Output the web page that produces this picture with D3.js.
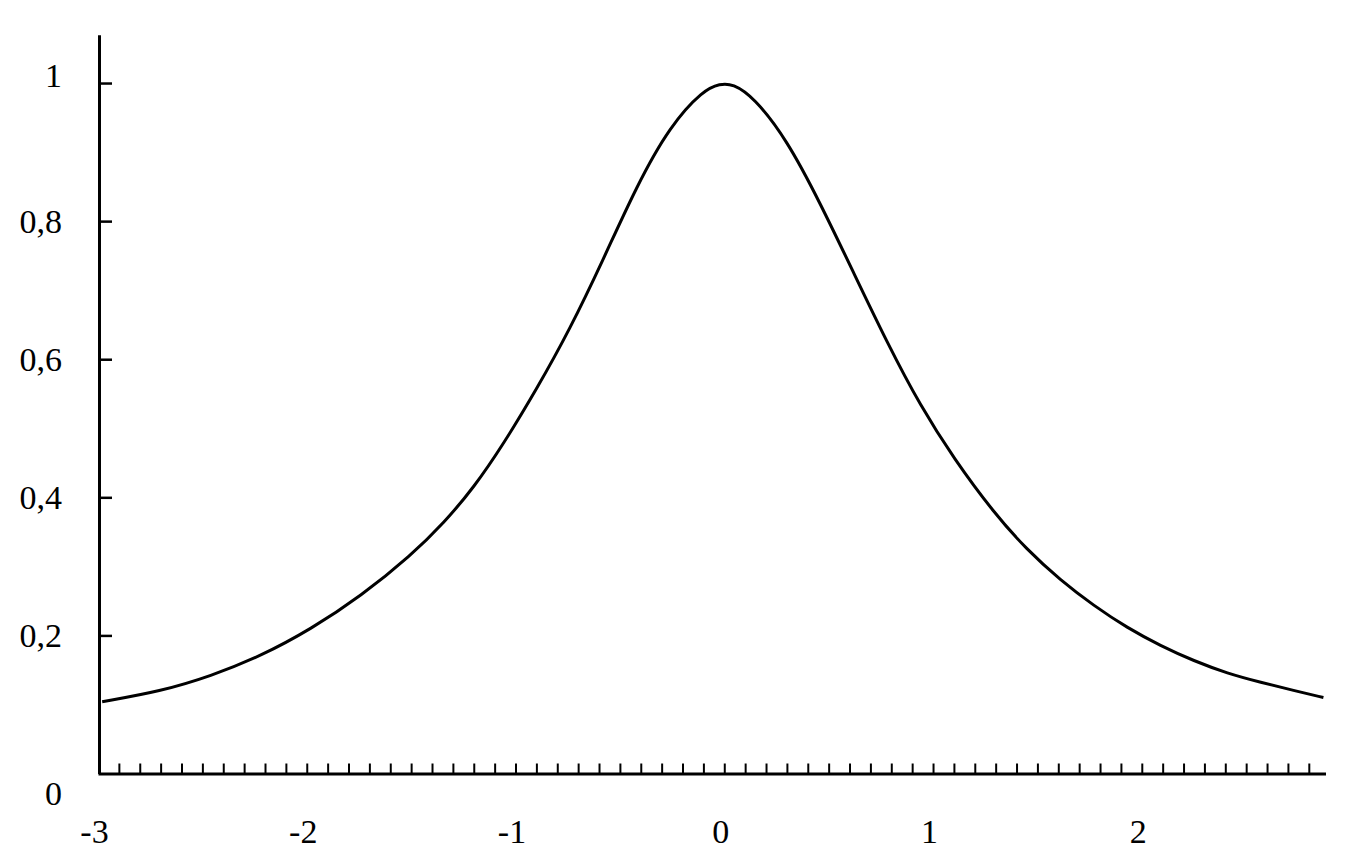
<!DOCTYPE html>
<html>
<head>
<meta charset="utf-8">
<script src="https://cdn.jsdelivr.net/npm/d3@7"></script>
<style>
  html, body { margin: 0; padding: 0; background: #fff; }
  svg { display: block; }
  text { font-family: "Liberation Serif", "Times New Roman", serif; fill: #000; }
</style>
</head>
<body>
<svg id="chart" width="1347" height="856"></svg>
<script>
// ---- data ----
const xValues = [-2.98, -2.70, -2.46, -2.22, -1.98, -1.74, -1.50, -1.34, -1.20, -1.06,
                 -0.90, -0.74, -0.58, -0.42, -0.26, -0.10, -0.02, 0.04, 0.14, 0.30,
                  0.46, 0.62, 0.78, 0.94, 1.10, 1.29, 1.45, 1.61, 1.77, 1.93,
                  2.09, 2.25, 2.41, 2.57, 2.73, 2.87];
const yValues = [0.104, 0.119, 0.141, 0.170, 0.209, 0.257, 0.316, 0.364, 0.414, 0.476,
                 0.556, 0.643, 0.744, 0.851, 0.938, 0.990, 0.999, 0.999, 0.980, 0.918,
                 0.826, 0.725, 0.624, 0.532, 0.456, 0.378, 0.324, 0.280, 0.243, 0.211,
                 0.185, 0.163, 0.145, 0.132, 0.120, 0.110];
const xTickLabels = [-3, -2, -1, 0, 1, 2];
const xMinorTicks = d3.range(-29, 29).map(i => i / 10);
const yTickValues = [0.2, 0.4, 0.6, 0.8, 1];
const yTickLabels = [0, 0.2, 0.4, 0.6, 0.8, 1];

const svg = d3.select("#chart");

const x = d3.scaleLinear().domain([-3, 2.88]).range([98, 1325.5]);
const y = d3.scaleLinear().domain([0, 1.07]).range([773.5, 34.7]);

const fmt = d => String(d).replace(".", ",");

// x axis: line + minor ticks pointing up
const gx = svg.append("g").attr("transform", `translate(0,${y(0)})`)
  .call(d3.axisBottom(x).tickValues(xMinorTicks).tickFormat("")
        .tickSizeInner(-10).tickSizeOuter(0));
gx.select(".domain").attr("stroke", "#000").attr("stroke-width", 3);
gx.selectAll(".tick line").attr("stroke", "#000").attr("stroke-width", 2);

// x labels
const gxl = svg.append("g").attr("transform", `translate(0,${y(0)})`)
  .call(d3.axisBottom(x).tickValues(xTickLabels).tickFormat(fmt)
        .tickSize(0).tickPadding(45));
gxl.select(".domain").remove();
gxl.selectAll("text").attr("font-size", 34).attr("font-family", "Liberation Serif")
  .attr("fill", "#000").attr("dx", -4);

// y axis: line + ticks pointing right
const gy = svg.append("g").attr("transform", `translate(99,0)`)
  .call(d3.axisRight(y).tickValues(yTickValues).tickFormat("")
        .tickSizeInner(13).tickSizeOuter(0));
gy.select(".domain").attr("stroke", "#000").attr("stroke-width", 3);
gy.selectAll(".tick line").attr("stroke", "#000").attr("stroke-width", 2.5);

// y labels
const gyl = svg.append("g").attr("transform", `translate(99,0)`)
  .call(d3.axisLeft(y).tickValues(yTickLabels).tickFormat(fmt)
        .tickSize(0).tickPadding(37));
gyl.select(".domain").remove();
gyl.selectAll("text").attr("font-size", 34).attr("font-family", "Liberation Serif")
  .attr("fill", "#000")
  .attr("dy", d => d === 0 ? "0.9em" : (d === 1 ? "0.1em" : "0.34em"));

// curve
const data = xValues.map((xv, i) => ({ x: xv, y: yValues[i] }));
const line = d3.line().x(d => x(d.x)).y(d => y(d.y)).curve(d3.curveBasis);
svg.append("path").datum(data)
  .attr("d", line)
  .attr("fill", "none")
  .attr("stroke", "#000")
  .attr("stroke-width", 3)
  .attr("stroke-linejoin", "round");
</script>
</body>
</html>
